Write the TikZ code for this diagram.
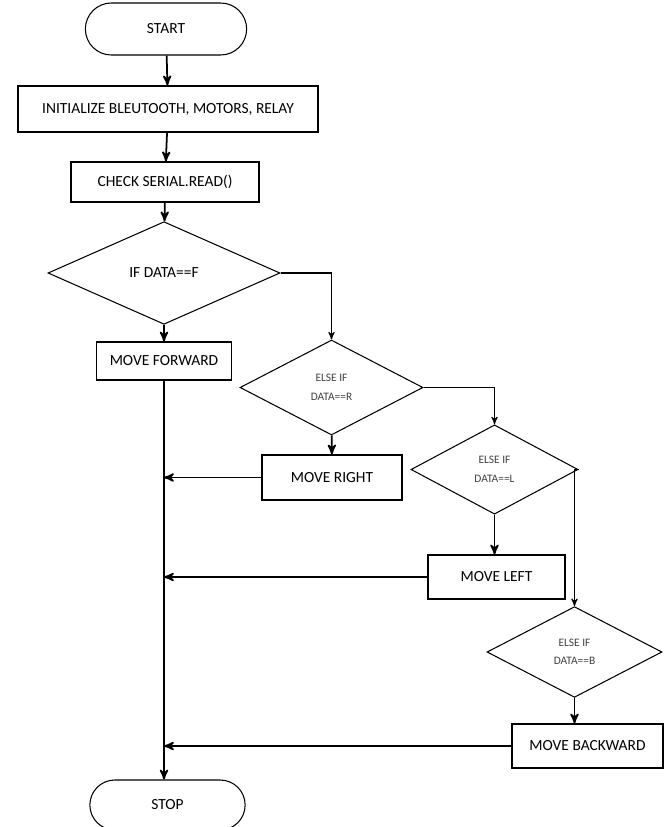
\documentclass[tikz,border=0pt]{standalone}
\usepackage{fontspec}
\setmainfont{Carlito}
\usepackage{tikz}
\usetikzlibrary{
        arrows,
        shapes,
        shapes.geometric,
        shapes.misc,
        positioning
    }
\tikzset{>=stealth',auto}
\tikzset{term/.style={draw,rounded rectangle,line width=0.6pt,font=\fontsize{8.8}{10}\selectfont}}
\tikzset{proc/.style={draw,rectangle,line width=0.6pt,font=\fontsize{8.8}{10}\selectfont}}
\tikzset{cond/.style={draw,diamond,line width=0.6pt,align=center,text=black!75,font=\fontsize{6.5}{10.5}\selectfont}}
\tikzset{flow/.style={->,line width=1pt}}

\begin{document}
\begin{tikzpicture}[]
\useasboundingbox (0,0) rectangle (13.28,-16.54);
			\node[term,minimum width=3.46cm,minimum height=1.04cm] (start) at (3.32,-0.58) {START};
			\node[proc,minimum width=6cm,minimum height=0.92cm] (init) at (3.36,-2.18) {INITIALIZE BLEUTOOTH, MOTORS, RELAY};
			\node[proc,minimum width=3.76cm,minimum height=0.8cm] (read) at (3.30,-3.64) {CHECK SERIAL.READ()};
			\node[cond,minimum width=4.64cm,minimum height=1.6cm,font=\fontsize{8.8}{10}\selectfont,text=black] (ifF) at (3.28,-5.46) {IF DATA==F};
			\node[proc,minimum width=2.7cm,minimum height=0.76cm] (fwd) at (3.28,-7.22) {MOVE FORWARD};
			\node[cond,minimum width=3.66cm,minimum height=1.9cm] (ifR) at (6.63,-7.75) {ELSE IF\\DATA==R};
			\node[proc,minimum width=2.8cm,minimum height=0.9cm] (right) at (6.64,-9.55) {MOVE RIGHT};
			\node[cond,minimum width=3.34cm,minimum height=1.78cm] (ifL) at (9.89,-9.39) {ELSE IF\\DATA==L};
			\node[proc,minimum width=2.74cm,minimum height=0.88cm] (left) at (9.93,-11.54) {MOVE LEFT};
			\node[cond,minimum width=3.5cm,minimum height=1.6cm] (ifB) at (11.49,-13.04) {ELSE IF\\DATA==B};
			\node[proc,minimum width=3.02cm,minimum height=0.88cm] (back) at (11.75,-14.92) {MOVE BACKWARD};
			\node[term,minimum width=3.34cm,minimum height=1.0cm] (stop) at (3.35,-16.1) {STOP};
		\path[flow]
				(start) edge (init)
				(init) edge (read)
				(read) edge (ifF)
				(ifF) edge (fwd)
				(ifR) edge (right)
				(ifL.south) edge (ifL.south |- left.north)
				(ifB.south) edge (ifB.south |- back.north)
				(fwd.south) edge (fwd.south |- stop.north)
				(right.west) edge (right.west -| fwd.south)
				(left.west) edge (left.west -| fwd.south)
				(back.west) edge (back.west -| fwd.south)
				;
		\draw[flow,line width=0.6pt] (ifF.east) -| (ifR.north);
		\draw[flow,line width=0.6pt] (ifR.east) -| (ifL.north);
		\draw[flow,line width=0.6pt] (ifL.east) -| (ifB.north);
\end{tikzpicture}
\end{document}
